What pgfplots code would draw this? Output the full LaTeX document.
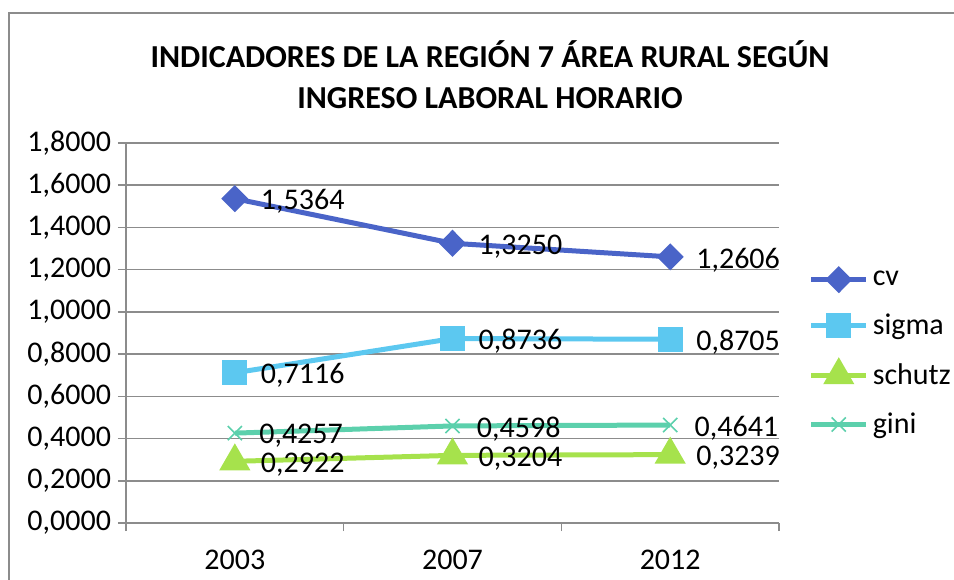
\documentclass[border=0pt]{standalone}
\usepackage{pgfplots}
\pgfplotsset{compat=1.18}
\usepackage{fontspec}
\setmainfont{Carlito}
\definecolor{cvc}{RGB}{74,100,200}
\definecolor{sgc}{RGB}{92,200,240}
\definecolor{shc}{RGB}{166,226,76}
\definecolor{gic}{RGB}{92,208,172}
\definecolor{gridc}{RGB}{140,140,140}
\begin{document}
\begin{tikzpicture}
\useasboundingbox (-63pt,-28pt) rectangle (414pt,261.5pt);
\draw[gridc,line width=0.8pt] (-58.5pt,-40pt) -- (-58.5pt,255pt) -- (440pt,255pt);
\node[font=\fontsize{16}{20.5}\selectfont\bfseries,align=center] at (182pt,224pt) {INDICADORES DE LA REGIÓN 7 ÁREA RURAL SEGÚN\\INGRESO LABORAL HORARIO};
\begin{axis}[
  scale only axis,
  width=326.5pt, height=190pt,
  xmin=-0.5, xmax=2.5, ymin=0, ymax=1.8,
  axis x line=bottom, axis y line=left,
  axis line style={gridc,line width=0.8pt,-},
  xtick={0,1,2}, xticklabels={2003,2007,2012},
  minor xtick={-0.5,0.5,1.5,2.5},
  ytick={0,0.2,...,1.8},
  tick align=outside,
  major tick length=4pt,
  minor tick length=4pt,
  x tick style={draw=none},
  minor x tick style={draw=gridc,line width=0.8pt},
  y tick style={gridc,line width=0.8pt},
  ymajorgrids,
  grid style={gridc,line width=0.8pt},
  ticklabel style={font=\fontsize{15}{17}\selectfont},
  yticklabel style={/pgf/number format/.cd,fixed,fixed zerofill,precision=4,use comma,assume math mode=true},
  xticklabel style={yshift=-6pt},
  point meta=explicit symbolic,
  nodes near coords,
  nodes near coords style={font=\fontsize{15}{17}\selectfont,anchor=west,xshift=8.5pt,yshift=-1.5pt,text=black},
  every axis plot/.append style={line width=2.5pt},
  legend style={draw=none,at={(1.045,0.675)},anchor=north west,font=\fontsize{15}{17}\selectfont,row sep=8.8pt,inner sep=0pt},
  legend cell align=left,
  legend image code/.code={\draw[mark repeat=2,mark phase=2,#1] plot coordinates {(0pt,0pt) (13.75pt,0pt) (27.5pt,0pt)};},
  clip=false,
]
\addplot[cvc,mark=diamond*,mark size=5pt,mark options={xscale=1.33,solid}] coordinates {(0,1.5364)[1,5364] (1,1.3250)[1,3250] (2,1.2606)[1,2606]};
\addlegendentry{cv}
\addplot[sgc,mark=square*,mark size=5pt] coordinates {(0,0.7116)[0,7116] (1,0.8736)[0,8736] (2,0.8705)[0,8705]};
\addlegendentry{sigma}
\addplot[shc,mark=triangle*,mark size=6.5pt] coordinates {(0,0.2922)[0,2922] (1,0.3204)[0,3204] (2,0.3239)[0,3239]};
\addlegendentry{schutz}
\addplot[gic,mark=x,mark size=5pt,mark options={line width=0.8pt}] coordinates {(0,0.4257)[0,4257] (1,0.4598)[0,4598] (2,0.4641)[0,4641]};
\addlegendentry{gini}
\end{axis}
\end{tikzpicture}
\end{document}
